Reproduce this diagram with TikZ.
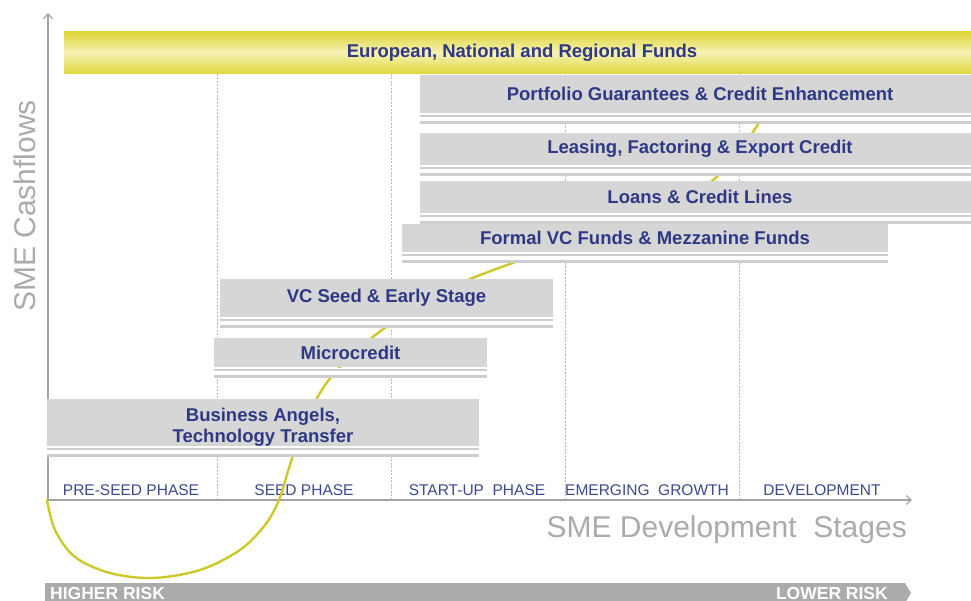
\documentclass[tikz,border=0pt]{standalone}
\usepackage{fontspec}
\setmainfont{Liberation Sans}
\usetikzlibrary{arrows.meta}
\definecolor{navy}{HTML}{2E3884}
\definecolor{phasecol}{HTML}{3C4A8E}
\definecolor{bargray}{HTML}{D6D6D6}
\definecolor{linegray}{HTML}{CDCDCD}
\definecolor{axisgray}{HTML}{A3A3A3}
\definecolor{gridgray}{HTML}{B8B8B8}
\definecolor{curvecol}{HTML}{CFC829}
\definecolor{ybar}{HTML}{DFD63A}
\definecolor{ylight}{HTML}{F6F2B4}
\definecolor{riskgray}{HTML}{ABABAB}
\definecolor{titlegray}{HTML}{ABABAB}
\begin{document}
\begin{tikzpicture}[x=1pt,y=-1pt,
  fundbar/.style={fill=bargray, inner sep=0pt, outer sep=0pt, anchor=north west,
    text=navy, font=\bfseries\fontsize{18.5}{21}\selectfont, align=center},
  topbar/.style={fundbar, fill=none, top color=ybar, bottom color=ybar, middle color=ylight},
  phase/.style={text=phasecol, font=\fontsize{15.5}{18}\selectfont, inner sep=0pt, anchor=base},
  axisline/.style={draw=axisgray, line width=1.1pt, -{Straight Barb[length=5pt,width=9pt]}},
  gridline/.style={draw=gridgray, line width=0.6pt, dash pattern=on 2pt off 1.5pt},
  curveline/.style={draw=curvecol, line width=2.4pt, line cap=round},
  thinline/.style={draw=linegray, line width=1.3pt},
  thickline/.style={draw=linegray, line width=3pt},
  risktext/.style={text=white, font=\bfseries\fontsize{17.5}{20}\selectfont, inner sep=0pt},
  axistitle/.style={text=titlegray, font=\fontsize{30}{34}\selectfont, inner sep=0pt}
]
\useasboundingbox (0,0) rectangle (971,601);
\fill[white] (0,0) rectangle (971,601);

% grid lines
\foreach \gx in {217,391,565,739} \draw[gridline] (\gx,74) -- (\gx,500);

% phase labels
\node[phase] (p1) at (131,495) {PRE-SEED PHASE};
\node[phase] (p2) at (304,495) {SEED PHASE};
\node[phase] (p3) at (477,495) {START-UP\ \ PHASE};
\node[phase] (p4) at (647,495) {EMERGING\ \ GROWTH};
\node[phase] (p5) at (822,495) {DEVELOPMENT};

% axes
\coordinate (O) at (48,500);
\coordinate (ytip) at (48,13);
\coordinate (xtip) at (912,500);
\draw[axisline] (O) -- (ytip);
\draw[axisline] (O) -- (xtip);

% J-curve
\draw[curveline] plot[smooth, tension=0.55] coordinates {
 (47,500) (55,530) (75,557) (110,573) (153,578) (200,570) (240,550) (265,525)
 (279,500) (289,468) (301,432) (316,400) (331,377) (353,354) (378,333) (420,304)
 (468,280) (521,260) (590,236) (650,212) (690,194) (712,181) (735,157) (755,129)
 (772,100) (778,90)};

% funding bars
\node[topbar, minimum width=916pt, minimum height=42pt] (eu) at (64,32) {European, National and Regional Funds};
\node[fundbar, minimum width=560pt, minimum height=38pt] (pg) at (420,75) {Portfolio Guarantees \& Credit Enhancement};
\node[fundbar, minimum width=560pt, minimum height=32pt] (lf) at (420,133) {Leasing, Factoring \& Export Credit};
\node[fundbar, minimum width=560pt, minimum height=32pt] (lc) at (420,181) {Loans \& Credit Lines};
\node[fundbar, minimum width=486pt, minimum height=28pt] (fv) at (402,224) {Formal VC Funds \& Mezzanine Funds};
\node[fundbar, minimum width=333pt, minimum height=38pt] (vs) at (220,279) {VC Seed \& Early Stage};
\node[fundbar, minimum width=273pt, minimum height=29pt] (mc) at (214,338) {Microcredit};
\node[fundbar, minimum width=432pt, minimum height=44pt] (ba) at (47,399) {\rule{0pt}{22pt}Business Angels,\\Technology Transfer};

\foreach \n in {pg,lf,lc,fv,vs,mc,ba} {
  \fill[white] ([yshift=-0.5pt]\n.south west) rectangle ([yshift=-11pt]\n.south east);
  \draw[thinline] ([yshift=-3pt]\n.south west) -- ([yshift=-3pt]\n.south east);
  \draw[thickline] ([yshift=-9.5pt]\n.south west) -- ([yshift=-9.5pt]\n.south east);
}

% axis titles
\node[axistitle, anchor=base east] (xt) at (907,537) {SME Development\ \ Stages};
\node[axistitle, anchor=base west, rotate=90] (yt) at (35,312) {SME Cashflows};

% risk bar
\fill[riskgray] (45,583) -- (905,583) -- (911,593) -- (905,603) -- (45,603) -- cycle;
\node[risktext, anchor=base west] (hr) at (50,599) {HIGHER RISK};
\node[risktext, anchor=base east] (lr) at (888,599) {LOWER RISK};
\end{tikzpicture}
\end{document}
